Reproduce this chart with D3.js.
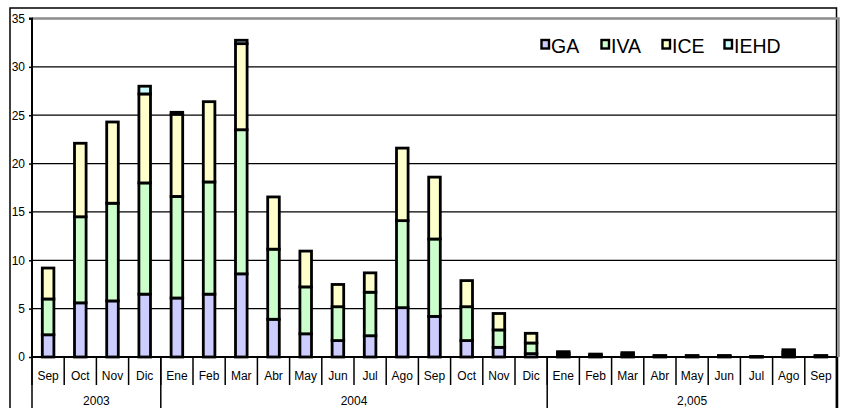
<!DOCTYPE html>
<html>
<head>
<meta charset="utf-8">
<script src="https://cdn.jsdelivr.net/npm/d3@7"></script>
<style>
  body { margin: 0; background: #fff; }
  svg { display: block; font-family: 'Liberation Sans', Arial, sans-serif; }
  .grid { stroke: #000; stroke-width: 1.3; }
  .seg { stroke: #000; stroke-width: 2.8; }
  .lbl { font-size: 12px; fill: #000; }
</style>
</head>
<body>
<svg id="chart" width="845" height="408"></svg>
<script>
'use strict';

//data
const months = ['Sep', 'Oct', 'Nov', 'Dic', 'Ene', 'Feb', 'Mar', 'Abr', 'May', 'Jun', 'Jul', 'Ago', 'Sep',
  'Oct', 'Nov', 'Dic', 'Ene', 'Feb', 'Mar', 'Abr', 'May', 'Jun', 'Jul', 'Ago', 'Sep'];
const yearLabels = ['2003', '2004', '2,005'];
const yearSpans = [4, 12, 9];
const seriesNames = ['GA', 'IVA', 'ICE', 'IEHD'];
const GA = [2.3, 5.6, 5.8, 6.5, 6.1, 6.5, 8.6, 3.9, 2.4, 1.7, 2.2, 5.1, 4.2, 1.7, 1.0, 0.35,
  0.2, 0.1, 0.15, 0.05, 0.05, 0.05, 0.02, 0.25, 0.05];
const IVA = [3.7, 8.9, 10.1, 11.5, 10.5, 11.6, 14.9, 7.25, 4.85, 3.5, 4.5, 9.0, 8.0, 3.5, 1.8, 1.1,
  0.2, 0.1, 0.15, 0.05, 0.05, 0.05, 0.01, 0.25, 0.05];
const ICE = [3.2, 7.6, 8.4, 9.2, 8.5, 8.3, 8.9, 5.4, 3.7, 2.3, 2.0, 7.5, 6.4, 2.7, 1.7, 1.0,
  0.15, 0.1, 0.15, 0.05, 0.05, 0.05, 0.01, 0.25, 0.05];
const IEHD = [0, 0, 0, 0.8, 0.2, 0, 0.35, 0, 0, 0, 0, 0, 0, 0, 0, 0,
  0, 0, 0, 0, 0, 0, 0, 0, 0];
const yTicks = [0, 5, 10, 15, 20, 25, 30, 35];
const colors = ['#ccccff', '#ccffcc', '#ffffcc', '#ccffff'];

(() => {

  //dimensions
  const pLeft = 32, pRight = 837, pTop = 18.5, pBottom = 357;
  const svg = d3.select('#chart');

  const x = d3.scaleBand()
    .domain(d3.range(months.length))
    .range([pLeft, pRight])
    .paddingInner(0.64)
    .paddingOuter(0.32);
  const y = d3.scaleLinear().domain([0, 35]).range([pBottom, pTop]);
  const color = d3.scaleOrdinal().domain(seriesNames).range(colors);

  //outer frame
  svg.append('rect')
    .attr('x', 10).attr('y', 8)
    .attr('width', 826.5).attr('height', 420)
    .attr('fill', 'none').attr('stroke', '#000').attr('stroke-width', 1.5);

  //grid lines
  svg.append('g')
    .selectAll('line')
    .data(yTicks.filter((d) => d > 0 && d < 35))
    .join('line')
    .attr('class', 'grid')
    .attr('x1', pLeft).attr('x2', pRight)
    .attr('y1', (d) => y(d)).attr('y2', (d) => y(d));

  //plot border top / right (grey)
  svg.append('path')
    .attr('d', `M ${pLeft} ${pTop} H ${pRight + 1.5} V ${pBottom}`)
    .attr('fill', 'none').attr('stroke', '#8c8c8c').attr('stroke-width', 2.5);

  //stacked bars
  const rows = months.map((m, i) => ({ i, GA: GA[i], IVA: IVA[i], ICE: ICE[i], IEHD: IEHD[i] }));
  const stacked = d3.stack().keys(seriesNames)(rows);
  stacked.forEach((layer) => {
    svg.append('g')
      .selectAll('rect')
      .data(layer.filter((d) => d[1] - d[0] > 0))
      .join('rect')
      .attr('class', 'seg')
      .attr('fill', color(layer.key))
      .attr('x', (d) => x(d.data.i))
      .attr('width', x.bandwidth())
      .attr('y', (d) => y(d[1]))
      .attr('height', (d) => y(d[0]) - y(d[1]));
  });

  //y axis
  const yAxis = svg.append('g')
    .attr('transform', `translate(${pLeft},0)`)
    .call(d3.axisLeft(y).tickValues(yTicks).tickSize(3).tickPadding(4));
  yAxis.select('.domain').attr('stroke-width', 2).attr('d', `M -3 ${pTop} H 0 V ${pBottom}`);
  yAxis.selectAll('.tick line').attr('stroke-width', 1.5);
  yAxis.attr('font-family', null).attr('font-size', null);
  yAxis.selectAll('text').attr('class', 'lbl');

  //x axis line
  svg.append('line')
    .attr('x1', pLeft).attr('x2', pRight)
    .attr('y1', pBottom).attr('y2', pBottom)
    .attr('stroke', '#000').attr('stroke-width', 2);

  //month ticks and labels
  const step = x.step();
  svg.append('g')
    .selectAll('line')
    .data(d3.range(months.length + 1))
    .join('line')
    .attr('x1', (i) => pLeft + i * step).attr('x2', (i) => pLeft + i * step)
    .attr('y1', pBottom).attr('y2', 385)
    .attr('stroke', '#000').attr('stroke-width', 1.5);
  svg.append('g')
    .selectAll('text')
    .data(months)
    .join('text')
    .attr('class', 'lbl')
    .attr('x', (d, i) => x(i) + x.bandwidth() / 2)
    .attr('y', 380)
    .attr('text-anchor', 'middle')
    .text((d) => d);

  //year groups
  const starts = yearSpans.map((n, k) => d3.sum(yearSpans.slice(0, k)));
  svg.append('g')
    .selectAll('line')
    .data([...starts, months.length])
    .join('line')
    .attr('x1', (i) => pLeft + i * step).attr('x2', (i) => pLeft + i * step)
    .attr('y1', pBottom).attr('y2', 410)
    .attr('stroke', '#000').attr('stroke-width', (i) => i === months.length ? 2.5 : 1.5);
  svg.append('g')
    .selectAll('text')
    .data(yearLabels)
    .join('text')
    .attr('class', 'lbl')
    .attr('x', (d, k) => pLeft + (starts[k] + yearSpans[k] / 2) * step)
    .attr('y', 405)
    .attr('text-anchor', 'middle')
    .text((d) => d);

  //legend
  const legendX = [540, 600, 661, 723];
  const legend = svg.append('g')
    .selectAll('g')
    .data(seriesNames)
    .join('g')
    .attr('transform', (d, k) => `translate(${legendX[k]},0)`);
  legend.append('rect')
    .attr('x', 1.5).attr('y', 40)
    .attr('width', 7.5).attr('height', 8.5)
    .attr('fill', (d) => color(d))
    .attr('stroke', '#000').attr('stroke-width', 2.4);
  legend.append('text')
    .attr('x', 11).attr('y', 53)
    .attr('font-size', 19.5)
    .text((d) => d);

})();
</script>
</body>
</html>
